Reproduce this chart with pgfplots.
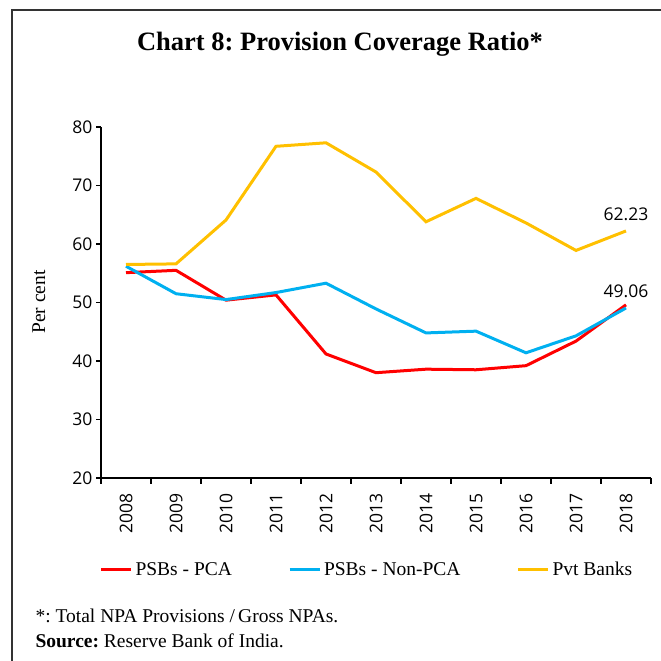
\documentclass[border=0pt]{standalone}
\usepackage{fontspec}
\setmainfont{Liberation Serif}
\newfontfamily\tickfont{Open Sans}
\usepackage{pgfplots}
\pgfplotsset{compat=1.18}
\definecolor{pcared}{HTML}{FF0000}
\definecolor{npcablue}{HTML}{00B0F0}
\definecolor{pvtyellow}{HTML}{FFC000}
\frenchspacing

\begin{document}
\begin{tikzpicture}[x=1pt,y=1pt]
\path[use as bounding box] (0,0) rectangle (661,661);
% frame of the panel
\draw[line width=1.2pt, black!80] (12,0) -- (12,651) -- (661,651);
\node[anchor=base, font=\fontsize{26.5}{30}\selectfont\bfseries] at (340,610)
  {Chart 8: Provision Coverage Ratio*};
\node[rotate=90, anchor=base, font=\fontsize{19.5}{22}\selectfont] at (45,359) {Per cent};

\begin{axis}[
  at={(101pt,183pt)}, anchor=south west,
  scale only axis, width=550pt, height=351pt,
  xmin=-0.5, xmax=10.5, ymin=20, ymax=80,
  axis x line=bottom, axis y line=left,
  axis line style={-, line width=1.2pt, black},
  xtick={0,...,10},
  xticklabels={2008,2009,2010,2011,2012,2013,2014,2015,2016,2017,2018},
  minor xtick={-0.5,0.5,...,10.5},
  major x tick style={draw=none},
  ytick={20,30,...,80},
  tick align=outside, major tick length=5pt, minor tick length=6pt,
  tick style={line width=1.2pt, black},
  every tick label/.append style={font=\tickfont\fontsize{17.5}{20}\selectfont},
  /pgf/number format/assume math mode=true,
  xticklabel style={rotate=90, anchor=east, inner xsep=10pt},
  legend columns=3,
  legend cell align=left,
  legend style={at={(axis description cs:-0.003,-0.262)}, anchor=west,
    draw=none, fill=none, inner sep=0pt,
    font=\fontsize{19.5}{22}\selectfont,
    nodes={inner sep=3pt},
    /tikz/every even column/.append style={column sep=53pt}},
  legend image code/.code={\draw[#1] (0pt,0pt) -- (30pt,0pt);},
]
\addplot[pcared, line width=3pt] coordinates {
(0,55.1) (1,55.5) (2,50.4) (3,51.3) (4,41.2) (5,38.0) (6,38.6) (7,38.5) (8,39.2) (9,43.4) (10,49.6)};
\addlegendentry{PSBs - PCA}
\addplot[npcablue, line width=3pt] coordinates {
(0,56.2) (1,51.5) (2,50.5) (3,51.7) (4,53.3) (5,48.9) (6,44.8) (7,45.1) (8,41.4) (9,44.3) (10,49.06)};
\addlegendentry{PSBs - Non-PCA}
\addplot[pvtyellow, line width=3pt] coordinates {
(0,56.5) (1,56.6) (2,64.1) (3,76.7) (4,77.3) (5,72.3) (6,63.8) (7,67.8) (8,63.6) (9,58.9) (10,62.23)};
\addlegendentry{Pvt Banks}
\node[anchor=south, font=\tickfont\fontsize{17.5}{20}\selectfont, inner sep=0pt, yshift=10pt] at (axis cs:10,62.23) {62.23};
\node[anchor=south, font=\tickfont\fontsize{17.5}{20}\selectfont, inner sep=0pt, yshift=7pt] at (axis cs:10,49.6) {49.06};
\end{axis}

\node[anchor=base west, font=\fontsize{19.5}{22}\selectfont] at (32,38)
  {*: Total NPA Provisions /\,Gross NPAs.};
\node[anchor=base west, font=\fontsize{19.5}{22}\selectfont] at (32,13)
  {\textbf{Source:} Reserve Bank of India.};
\end{tikzpicture}
\end{document}
